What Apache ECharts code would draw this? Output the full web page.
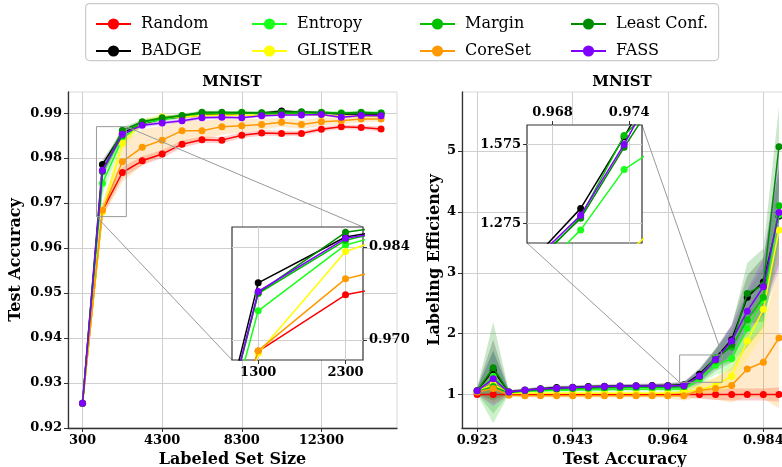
<!DOCTYPE html>
<html>
<head>
<meta charset="utf-8">
<script src="https://cdn.jsdelivr.net/npm/echarts@6/dist/echarts.min.js"></script>
<style>
html, body { margin: 0; padding: 0; background: #fff; }
#chart { width: 782px; height: 467px; }
</style>
</head>
<body>
<div id="chart"></div>
<script>
// method names in plotting order, legend columns below
const methods = ['Random', 'BADGE', 'Entropy', 'GLISTER', 'Margin', 'CoreSet', 'Least Conf.', 'FASS'];
const colors = ['#ff0000', '#000000', '#1aff1a', '#ffff00', '#00c000', '#ff9900', '#008c00', '#8000ff'];
const legendCols = [['Random', 'BADGE'], ['Entropy', 'GLISTER'], ['Margin', 'CoreSet'], ['Least Conf.', 'FASS']];

// ---- left panel: test accuracy vs labeled set size
const setSizes = [300, 1300, 2300, 3300, 4300, 5300, 6300, 7300, 8300, 9300, 10300, 11300, 12300, 13300, 14300, 15300];
const accRandom  = [0.9255, 0.9683, 0.9768, 0.9794, 0.9809, 0.9831, 0.9841, 0.9840, 0.9851, 0.9856, 0.9855, 0.9855, 0.9864, 0.9870, 0.9868, 0.9865];
const accBadge   = [0.9255, 0.9786, 0.9855, 0.9877, 0.9887, 0.9892, 0.9896, 0.9897, 0.9900, 0.9900, 0.9905, 0.9902, 0.9901, 0.9898, 0.9898, 0.9898];
const accEntropy = [0.9255, 0.9744, 0.9843, 0.9878, 0.9886, 0.9893, 0.9899, 0.9900, 0.9901, 0.9901, 0.9901, 0.9901, 0.9901, 0.9901, 0.9901, 0.9901];
const accGlister = [0.9255, 0.9680, 0.9833, 0.9880, 0.9892, 0.9892, 0.9895, 0.9896, 0.9895, 0.9896, 0.9898, 0.9898, 0.9896, 0.9893, 0.9893, 0.9893];
const accMargin  = [0.9255, 0.9770, 0.9850, 0.9880, 0.9888, 0.9895, 0.9900, 0.9900, 0.9902, 0.9898, 0.9900, 0.9900, 0.9902, 0.9900, 0.9902, 0.9900];
const accCoreset = [0.9255, 0.9684, 0.9792, 0.9824, 0.9840, 0.9861, 0.9861, 0.9870, 0.9872, 0.9875, 0.9880, 0.9875, 0.9881, 0.9883, 0.9887, 0.9887];
const accLeast   = [0.9255, 0.9771, 0.9862, 0.9881, 0.9890, 0.9894, 0.9902, 0.9902, 0.9901, 0.9901, 0.9902, 0.9903, 0.9901, 0.9899, 0.9901, 0.9900];
const accFass    = [0.9255, 0.9773, 0.9853, 0.9873, 0.9878, 0.9883, 0.9890, 0.9891, 0.9890, 0.9894, 0.9896, 0.9896, 0.9897, 0.9891, 0.9895, 0.9894];

const sdRandom  = [0.0005, 0.0012, 0.0012, 0.0010, 0.0009, 0.0008, 0.0007, 0.0007, 0.0006, 0.0006, 0.0006, 0.0005, 0.0005, 0.0005, 0.0005, 0.0005];
const sdBadge   = [0.0005, 0.0010, 0.0006, 0.0005, 0.0004, 0.0004, 0.0004, 0.0003, 0.0003, 0.0003, 0.0003, 0.0003, 0.0003, 0.0003, 0.0003, 0.0003];
const sdEntropy = [0.0005, 0.0025, 0.0012, 0.0007, 0.0005, 0.0004, 0.0004, 0.0004, 0.0003, 0.0003, 0.0003, 0.0003, 0.0003, 0.0003, 0.0003, 0.0003];
const sdGlister = [0.0005, 0.0020, 0.0015, 0.0008, 0.0005, 0.0004, 0.0004, 0.0004, 0.0003, 0.0003, 0.0003, 0.0003, 0.0003, 0.0003, 0.0003, 0.0003];
const sdMargin  = [0.0005, 0.0015, 0.0008, 0.0005, 0.0004, 0.0004, 0.0004, 0.0003, 0.0003, 0.0003, 0.0003, 0.0003, 0.0003, 0.0003, 0.0003, 0.0003];
const sdCoreset = [0.0005, 0.0015, 0.0045, 0.0040, 0.0032, 0.0025, 0.0022, 0.0018, 0.0015, 0.0012, 0.0010, 0.0010, 0.0009, 0.0008, 0.0007, 0.0006];
const sdLeast   = [0.0005, 0.0012, 0.0007, 0.0005, 0.0004, 0.0004, 0.0004, 0.0003, 0.0003, 0.0003, 0.0003, 0.0003, 0.0003, 0.0003, 0.0003, 0.0003];
const sdFass    = [0.0005, 0.0012, 0.0007, 0.0005, 0.0004, 0.0004, 0.0004, 0.0003, 0.0003, 0.0003, 0.0003, 0.0003, 0.0003, 0.0003, 0.0003, 0.0003];

const sizeTicks = [300, 4300, 8300, 12300];
const accTicks = [0.92, 0.93, 0.94, 0.95, 0.96, 0.97, 0.98, 0.99];
const zoomSizeTicks = [1300, 2300];
const zoomAccTicks = [0.970, 0.984];

// ---- right panel: labeling efficiency vs test accuracy
const accGrid = [0.9232, 0.9266, 0.9299, 0.9333, 0.9366, 0.9400, 0.9434, 0.9467, 0.9501, 0.9534,
                 0.9568, 0.9602, 0.9635, 0.9669, 0.9702, 0.9736, 0.9770, 0.9803, 0.9837, 0.9870];
const effRandom  = [1, 1, 1, 1, 1, 1, 1, 1, 1, 1, 1, 1, 1, 1, 1, 1, 1, 1, 1, 1];
const effBadge   = [1.06, 1.40, 1.04, 1.075, 1.095, 1.115, 1.12, 1.13, 1.135, 1.14, 1.145, 1.15, 1.15, 1.16, 1.332, 1.604, 1.90, 2.60, 2.85, 3.93];
const effEntropy = [1.05, 1.30, 1.03, 1.05, 1.06, 1.07, 1.075, 1.08, 1.08, 1.085, 1.085, 1.09, 1.09, 1.09, 1.25, 1.48, 1.59, 2.09, 2.55, 3.95];
const effGlister = [1.05, 1.17, 1.02, 1.02, 1.02, 1.02, 1.02, 1.02, 1.02, 1.02, 1.02, 1.02, 1.02, 1.04, 1.08, 1.15, 1.30, 1.88, 2.40, 3.70];
const effMargin  = [1.05, 1.13, 1.03, 1.06, 1.08, 1.09, 1.10, 1.105, 1.11, 1.115, 1.12, 1.12, 1.12, 1.13, 1.30, 1.61, 1.78, 2.23, 2.60, 4.10];
const effCoreset = [1.04, 1.10, 0.99, 0.98, 0.98, 0.98, 0.98, 0.98, 0.98, 0.98, 0.98, 0.98, 0.98, 0.98, 1.07, 1.10, 1.15, 1.42, 1.53, 1.93];
const effLeast   = [1.06, 1.44, 1.04, 1.065, 1.085, 1.10, 1.11, 1.12, 1.125, 1.13, 1.135, 1.135, 1.14, 1.14, 1.294, 1.565, 1.82, 2.66, 2.80, 5.07];
const effFass    = [1.06, 1.26, 1.04, 1.07, 1.09, 1.105, 1.115, 1.125, 1.13, 1.135, 1.14, 1.14, 1.14, 1.15, 1.306, 1.576, 1.88, 2.37, 2.77, 3.99];

const esdRandom  = [0.02, 0.05, 0.01, 0.01, 0.01, 0.01, 0.01, 0.01, 0.01, 0.01, 0.01, 0.01, 0.02, 0.04, 0.07, 0.09, 0.10, 0.10, 0.10, 0.12];
const esdBadge   = [0.05, 0.50, 0.03, 0.03, 0.03, 0.03, 0.03, 0.03, 0.03, 0.03, 0.03, 0.03, 0.04, 0.05, 0.10, 0.15, 0.25, 0.35, 0.40, 0.80];
const esdEntropy = [0.05, 0.40, 0.03, 0.03, 0.03, 0.03, 0.03, 0.03, 0.03, 0.03, 0.03, 0.03, 0.04, 0.06, 0.10, 0.15, 0.20, 0.30, 0.40, 0.60];
const esdGlister = [0.05, 0.30, 0.03, 0.03, 0.03, 0.03, 0.03, 0.03, 0.03, 0.03, 0.03, 0.03, 0.04, 0.06, 0.08, 0.12, 0.20, 0.30, 0.40, 0.55];
const esdMargin  = [0.05, 0.60, 0.03, 0.03, 0.03, 0.03, 0.03, 0.03, 0.03, 0.03, 0.03, 0.03, 0.04, 0.06, 0.10, 0.15, 0.25, 0.45, 0.50, 0.60];
const esdCoreset = [0.05, 0.25, 0.03, 0.03, 0.03, 0.03, 0.03, 0.03, 0.03, 0.03, 0.03, 0.03, 0.04, 0.08, 0.12, 0.18, 0.28, 0.45, 0.60, 1.16];
const esdLeast   = [0.05, 0.75, 0.03, 0.03, 0.03, 0.03, 0.03, 0.03, 0.03, 0.03, 0.03, 0.03, 0.04, 0.06, 0.12, 0.18, 0.30, 0.50, 0.60, 0.66];
const esdFass    = [0.05, 0.45, 0.03, 0.03, 0.03, 0.03, 0.03, 0.03, 0.03, 0.03, 0.03, 0.03, 0.04, 0.05, 0.10, 0.15, 0.25, 0.35, 0.45, 0.95];

const effTickValues = [0.9232, 0.9434, 0.9635, 0.9837];
const effTickLabels = ['0.923', '0.943', '0.964', '0.984'];
const effTicks = [1, 2, 3, 4, 5];
const zoomEffAccTicks = [0.968, 0.974];
const zoomEffTicks = [1.275, 1.575];

const leftMeans = [accRandom, accBadge, accEntropy, accGlister, accMargin, accCoreset, accLeast, accFass];
const leftSds = [sdRandom, sdBadge, sdEntropy, sdGlister, sdMargin, sdCoreset, sdLeast, sdFass];
const rightMeans = [effRandom, effBadge, effEntropy, effGlister, effMargin, effCoreset, effLeast, effFass];
const rightSds = [esdRandom, esdBadge, esdEntropy, esdGlister, esdMargin, esdCoreset, esdLeast, esdFass];

const serif = 'DejaVu Serif';
const tickFont = { fontFamily: serif, fontWeight: 'bold', fontSize: 13, color: '#000' };
const nameFont = { fontFamily: serif, fontWeight: 'bold', fontSize: 16, color: '#000' };
const gridLine = { show: true, lineStyle: { color: '#cfcfcf', width: 1 } };

function lineSeries(i, xs, ys, xi, yi, z) {
    return {
        name: methods[i],
        type: 'line',
        xAxisIndex: xi,
        yAxisIndex: yi,
        data: xs.map((x, k) => [x, ys[k]]),
        symbol: 'circle',
        symbolSize: 7,
        showSymbol: true,
        clip: true,
        z: z,
        lineStyle: { color: colors[i], width: 1.5 },
        itemStyle: { color: colors[i] },
        emphasis: { disabled: true }
    };
}

function bandSeries(i, xs, ys, sd, xi, yi) {
    return {
        type: 'custom',
        xAxisIndex: xi,
        yAxisIndex: yi,
        data: [[xs[0], ys[0]]],
        silent: true,
        z: 2,
        renderItem: function (params, api) {
            const up = xs.map((x, k) => api.coord([x, ys[k] + sd[k]]));
            const lo = xs.map((x, k) => api.coord([x, ys[k] - sd[k]])).reverse();
            return {
                type: 'polygon',
                shape: { points: up.concat(lo) },
                style: { fill: colors[i], opacity: 0.2 }
            };
        }
    };
}

function pick(values, labels) {
    return function (v) {
        let best = 0;
        values.forEach((t, k) => { if (Math.abs(t - v) < Math.abs(values[best] - v)) best = k; });
        return labels[best];
    };
}

const series = [];
methods.forEach((m, i) => {
    series.push(bandSeries(i, setSizes, leftMeans[i], leftSds[i], 0, 0));
    series.push(bandSeries(i, accGrid, rightMeans[i], rightSds[i], 2, 2));
});
methods.forEach((m, i) => {
    series.push(lineSeries(i, setSizes, leftMeans[i], 0, 0, 3 + i * 0.01));
    series.push(lineSeries(i, setSizes, leftMeans[i], 1, 1, 10 + i * 0.01));
    series.push(lineSeries(i, accGrid, rightMeans[i], 2, 2, 3 + i * 0.01));
    series.push(lineSeries(i, accGrid, rightMeans[i], 3, 3, 10 + i * 0.01));
});

const mainAxisLine = { show: true, onZero: false, lineStyle: { color: '#333', width: 1.3 } };
const tickStyle = (vals) => ({ show: true, customValues: vals, length: 4, lineStyle: { color: '#333' } });
const plain = v => String(v);

const option = {
    animation: false,
    legend: legendCols.map((col, c) => ({
        data: col,
        orient: 'vertical',
        left: [90, 246, 414, 565][c],
        top: 11,
        itemGap: 11,
        itemWidth: 35,
        itemHeight: 14,
        selectedMode: false,
        textStyle: { fontFamily: serif, fontSize: 16, color: '#000', padding: [0, 0, 0, 5] }
    })),
    grid: [
        { left: 68, top: 92, width: 329, height: 336, show: true, borderColor: '#d9d9d9', borderWidth: 1, outerBoundsMode: 'none' },
        { left: 232, top: 227, width: 131, height: 133, show: true, borderColor: '#333', borderWidth: 1.2, backgroundColor: '#fff', z: 5, outerBoundsMode: 'none' },
        { left: 462, top: 92, width: 325, height: 336, show: true, borderColor: '#d9d9d9', borderWidth: 1, outerBoundsMode: 'none' },
        { left: 527, top: 125, width: 115, height: 118, show: true, borderColor: '#333', borderWidth: 1.2, backgroundColor: '#fff', z: 5, outerBoundsMode: 'none' }
    ],
    xAxis: [
        {
            type: 'value', gridIndex: 0, min: -430, max: 16100,
            axisLine: mainAxisLine, axisTick: tickStyle(sizeTicks),
            axisLabel: Object.assign({ customValues: sizeTicks, margin: 6, formatter: plain }, tickFont),
            splitLine: gridLine,
            name: 'Labeled Set Size', nameLocation: 'middle', nameGap: 21, nameTextStyle: nameFont
        },
        {
            type: 'value', gridIndex: 1, min: 1000, max: 2500, z: 6,
            axisLine: { show: false }, axisTick: tickStyle(zoomSizeTicks),
            axisLabel: Object.assign({ customValues: zoomSizeTicks, margin: 6, formatter: plain }, tickFont),
            splitLine: gridLine
        },
        {
            type: 'value', gridIndex: 2, min: 0.9200, max: 0.9887,
            axisLine: mainAxisLine, axisTick: tickStyle(effTickValues),
            axisLabel: Object.assign({ customValues: effTickValues, margin: 6, formatter: pick(effTickValues, effTickLabels) }, tickFont),
            splitLine: gridLine,
            name: 'Test Accuracy', nameLocation: 'middle', nameGap: 21, nameTextStyle: nameFont
        },
        {
            type: 'value', gridIndex: 3, min: 0.966, max: 0.975, position: 'top', z: 6,
            axisLine: { show: false }, axisTick: tickStyle(zoomEffAccTicks),
            axisLabel: Object.assign({ customValues: zoomEffAccTicks, margin: 6, formatter: v => v.toFixed(3) }, tickFont),
            splitLine: gridLine
        }
    ],
    yAxis: [
        {
            type: 'value', gridIndex: 0, min: 0.92, max: 0.9947,
            axisLine: mainAxisLine, axisTick: tickStyle(accTicks),
            axisLabel: Object.assign({ customValues: accTicks, margin: 6, formatter: v => v.toFixed(2) }, tickFont),
            splitLine: gridLine,
            name: 'Test Accuracy', nameLocation: 'middle', nameGap: 44, nameTextStyle: nameFont
        },
        {
            type: 'value', gridIndex: 1, min: 0.967, max: 0.987, position: 'right', z: 6,
            axisLine: { show: false }, axisTick: tickStyle(zoomAccTicks),
            axisLabel: Object.assign({ customValues: zoomAccTicks, margin: 6, formatter: v => v.toFixed(3) }, tickFont),
            splitLine: gridLine
        },
        {
            type: 'value', gridIndex: 2, min: 0.45, max: 5.97,
            axisLine: mainAxisLine, axisTick: tickStyle(effTicks),
            axisLabel: Object.assign({ customValues: effTicks, margin: 6 }, tickFont),
            splitLine: gridLine,
            name: 'Labeling Efficiency', nameLocation: 'middle', nameGap: 18, nameTextStyle: nameFont
        },
        {
            type: 'value', gridIndex: 3, min: 1.2, max: 1.65, z: 6,
            axisLine: { show: false }, axisTick: tickStyle(zoomEffTicks),
            axisLabel: Object.assign({ customValues: zoomEffTicks, margin: 6, formatter: v => v.toFixed(3) }, tickFont),
            splitLine: gridLine
        }
    ],
    series: series
};

const chart = echarts.init(document.getElementById('chart'), null, { renderer: 'canvas' });
chart.setOption(option);

// zoom boxes, connector lines, titles and the legend frame
const px = (g, v) => chart.convertToPixel({ gridIndex: g }, v);
function box(g, x0, x1, y0, y1) {
    const a = px(g, [x0, y1]);
    const b = px(g, [x1, y0]);
    return { type: 'rect', shape: { x: a[0], y: a[1], width: b[0] - a[0], height: b[1] - a[1] },
             style: { fill: 'none', stroke: '#999', lineWidth: 1 }, z: 4, silent: true };
}
function link(g1, g2, v) {
    const a = px(g1, v);
    const b = px(g2, v);
    return { type: 'line', shape: { x1: a[0], y1: a[1], x2: b[0], y2: b[1] },
             style: { stroke: '#999', lineWidth: 1 }, z: 4, silent: true };
}
const graphics = [
    { type: 'rect', left: 85, top: 3, shape: { width: 633, height: 57, r: 4 },
      style: { fill: '#fff', stroke: '#cccccc', lineWidth: 1.2 }, z: -1, silent: true },
    { type: 'text', x: 232, y: 82, style: { text: 'MNIST', font: 'bold 15px "DejaVu Serif"', align: 'center', verticalAlign: 'middle', fill: '#000' } },
    { type: 'text', x: 622, y: 82, style: { text: 'MNIST', font: 'bold 15px "DejaVu Serif"', align: 'center', verticalAlign: 'middle', fill: '#000' } },
    box(0, 1000, 2500, 0.967, 0.987),
    link(0, 1, [2500, 0.987]),
    link(0, 1, [1000, 0.967]),
    box(2, 0.966, 0.975, 1.2, 1.65),
    link(2, 3, [0.966, 1.2]),
    link(2, 3, [0.975, 1.65])
];
chart.setOption({ graphic: graphics });
</script>
</body>
</html>
